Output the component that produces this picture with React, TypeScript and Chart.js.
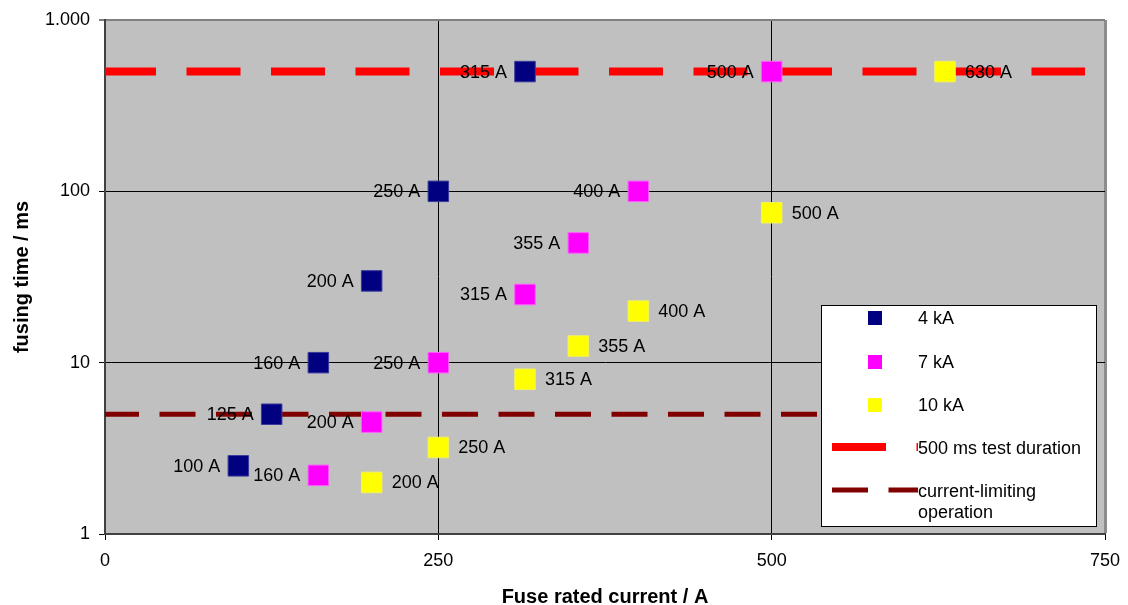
import React, { useEffect, useRef } from 'react';
import { Chart, registerables } from 'chart.js';

Chart.register(...registerables);

const FONT = "'Liberation Sans', Arial, Helvetica, sans-serif";

const seriesNames = ['4 kA', '7 kA', '10 kA'];
const seriesColors = ['#000080', '#FF00FF', '#FFFF00'];
const seriesBorders = ['#3a3a9c', '#ff5cff', '#f2f25a'];
const labelSides = ['left', 'left', 'right'];

const current4kA = [100, 125, 160, 200, 250, 315];
const time4kA = [2.5, 5, 10, 30, 100, 500];
const current7kA = [160, 200, 250, 315, 355, 400, 500];
const time7kA = [2.2, 4.5, 10, 25, 50, 100, 500];
const current10kA = [200, 250, 315, 355, 400, 500, 630];
const time10kA = [2, 3.2, 8, 12.5, 20, 75, 500];

const lineNames = ['500 ms test duration', 'current-limiting\noperation'];
const testDurationX = [0, 735];
const testDurationY = [500, 500];
const currentLimitingX = [0, 735];
const currentLimitingY = [5, 5];

const xTickStep = 250;
const yTicks = [1, 10, 100, 1000];
const yTickLabels = ['1', '10', '100', '1.000'];

const zip = (xs: number[], ys: number[]) => xs.map((x, i) => ({ x, y: ys[i] }));

const bgPlugin = {
  id: 'plotBg',
  beforeDraw(chart: any) {
    const { ctx, chartArea } = chart;
    ctx.save();
    ctx.fillStyle = '#C0C0C0';
    ctx.fillRect(chartArea.left, chartArea.top, chartArea.right - chartArea.left, chartArea.bottom - chartArea.top);
    ctx.restore();
  },
};

const pointLabelPlugin = {
  id: 'pointLabels',
  afterDatasetsDraw(chart: any) {
    const { ctx } = chart;
    ctx.save();
    ctx.font = `18px ${FONT}`;
    ctx.fillStyle = '#000';
    ctx.textBaseline = 'middle';
    chart.data.datasets.forEach((ds: any, i: number) => {
      if (!ds.labelSide) return;
      const meta = chart.getDatasetMeta(i);
      meta.data.forEach((el: any, j: number) => {
        const text = `${ds.data[j].x} A`;
        if (ds.labelSide === 'right') {
          ctx.textAlign = 'left';
          ctx.fillText(text, el.x + 20, el.y + 1);
        } else {
          ctx.textAlign = 'right';
          ctx.fillText(text, el.x - 18, el.y + 1);
        }
      });
    });
    ctx.restore();
  },
};

const legendPlugin = {
  id: 'insideLegend',
  afterDraw(chart: any) {
    const { ctx, chartArea } = chart;
    const right = chartArea.right - 8;
    const bottom = chartArea.bottom - 7;
    const left = right - 276;
    const top = bottom - 222;
    ctx.save();
    ctx.fillStyle = '#FFFFFF';
    ctx.fillRect(left, top, right - left, bottom - top);
    ctx.strokeStyle = '#000';
    ctx.lineWidth = 1;
    ctx.strokeRect(left + 0.5, top + 0.5, right - left - 1, bottom - top - 1);

    const textX = left + 97;
    ctx.font = `18px ${FONT}`;
    ctx.textBaseline = 'middle';
    ctx.textAlign = 'left';
    const ds = chart.data.datasets;
    const rowsY = [13, 57, 100];
    for (let i = 0; i < 3; i++) {
      const y = top + rowsY[i];
      ctx.fillStyle = ds[i].backgroundColor;
      ctx.fillRect(left + 47, y - 7, 14, 14);
      ctx.fillStyle = '#000';
      ctx.fillText(ds[i].label, textX, y + 1);
    }
    const lineRows = [142, 185];
    for (let k = 0; k < 2; k++) {
      const d = ds[3 + k];
      const y = top + lineRows[k];
      ctx.save();
      ctx.strokeStyle = d.borderColor;
      ctx.lineWidth = d.borderWidth;
      ctx.setLineDash(d.borderDash);
      ctx.lineCap = 'butt';
      ctx.beginPath();
      ctx.moveTo(left + 11, y);
      ctx.lineTo(left + 97, y);
      ctx.stroke();
      ctx.restore();
      ctx.fillStyle = '#000';
      const lines = String(d.label).split('\n');
      lines.forEach((t, li) => ctx.fillText(t, textX, y + 2 + li * 21));
    }
    ctx.restore();
  },
};

export default function App() {
  const ref = useRef<HTMLCanvasElement | null>(null);

  useEffect(() => {
    if (!ref.current) return;
    Chart.defaults.font.family = FONT;
    const series = [zip(current4kA, time4kA), zip(current7kA, time7kA), zip(current10kA, time10kA)];
    const pointSets = series.map((data, i) => ({
      type: 'scatter' as const,
      label: seriesNames[i],
      data,
      backgroundColor: seriesColors[i],
      borderColor: seriesBorders[i],
      borderWidth: 1,
      pointStyle: 'rect',
      pointRadius: 14.5,
      pointHoverRadius: 14.5,
      showLine: false,
      labelSide: labelSides[i],
    }));
    const chart = new Chart(ref.current, {
      type: 'scatter',
      data: {
        datasets: [
          ...pointSets,
          {
            type: 'scatter',
            label: lineNames[0],
            data: zip(testDurationX, testDurationY),
            showLine: true,
            borderColor: '#FF0000',
            backgroundColor: '#FF0000',
            borderWidth: 8,
            borderDash: [54, 30.5],
            borderDashOffset: 3,
            borderCapStyle: 'butt',
            pointRadius: 0,
            pointHoverRadius: 0,
          },
          {
            type: 'scatter',
            label: lineNames[1],
            data: zip(currentLimitingX, currentLimitingY),
            showLine: true,
            borderColor: '#800000',
            backgroundColor: '#800000',
            borderWidth: 5,
            borderDash: [36, 20.5],
            borderDashOffset: 2,
            borderCapStyle: 'butt',
            pointRadius: 0,
            pointHoverRadius: 0,
          },
        ] as any,
      },
      options: {
        animation: false,
        responsive: false,
        events: [],
        layout: { padding: { top: 20, right: 23, left: 0, bottom: 0 } },
        plugins: {
          legend: { display: false },
          tooltip: { enabled: false },
        },
        scales: {
          x: {
            type: 'linear',
            min: 0,
            max: 750,
            ticks: {
              stepSize: xTickStep,
              color: '#000',
              font: { size: 18, family: FONT },
              padding: 10,
              maxRotation: 0,
            },
            grid: {
              color: (c: any) => (c.tick && c.tick.value === 750 ? '#8c8c8c' : '#000'),
              lineWidth: (c: any) => (c.tick && c.tick.value === 750 ? 3 : 1),
              tickColor: '#000',
              tickWidth: 1,
              tickLength: 6,
            },
            border: { display: true, color: '#404040', width: 2 },
            title: {
              display: true,
              text: 'Fuse rated current / A',
              color: '#000',
              font: { size: 20, weight: 'bold', family: FONT, lineHeight: 1.2 },
              padding: { top: 0, bottom: -4 },
            },
            afterFit: (scale: any) => {
              scale.height = 71;
              scale.paddingLeft = 0;
              scale.paddingRight = 0;
            },
          },
          y: {
            type: 'logarithmic',
            min: 1,
            max: 1000,
            afterBuildTicks: (scale: any) => {
              scale.ticks = yTicks.map((v) => ({ value: v }));
            },
            ticks: {
              color: '#000',
              font: { size: 18, family: FONT },
              padding: 9,
              callback: (v: any) => {
                const idx = yTicks.indexOf(Number(v));
                return idx >= 0 ? yTickLabels[idx] : '';
              },
            },
            grid: {
              color: (c: any) => (c.tick && c.tick.value === 1000 ? '#808080' : '#000'),
              lineWidth: (c: any) => (c.tick && c.tick.value === 1000 ? 2 : 1),
              tickColor: '#000',
              tickWidth: 1,
              tickLength: 6,
            },
            border: { display: true, color: '#404040', width: 2 },
            title: {
              display: true,
              text: 'fusing time / ms',
              color: '#000',
              font: { size: 20, weight: 'bold', family: FONT, lineHeight: 1.2 },
              padding: { top: 10, bottom: 0 },
            },
            afterFit: (scale: any) => {
              scale.width = 105;
              scale.paddingTop = 0;
              scale.paddingBottom = 0;
            },
          },
        },
      } as any,
      plugins: [bgPlugin, pointLabelPlugin, legendPlugin],
    });
    return () => chart.destroy();
  }, []);

  return (
    <div style={{ position: 'absolute', left: 0, top: 0, width: 1128, height: 605, background: '#fff' }}>
      <canvas ref={ref} width={1128} height={605} style={{ width: 1128, height: 605, display: 'block' }} />
    </div>
  );
}
